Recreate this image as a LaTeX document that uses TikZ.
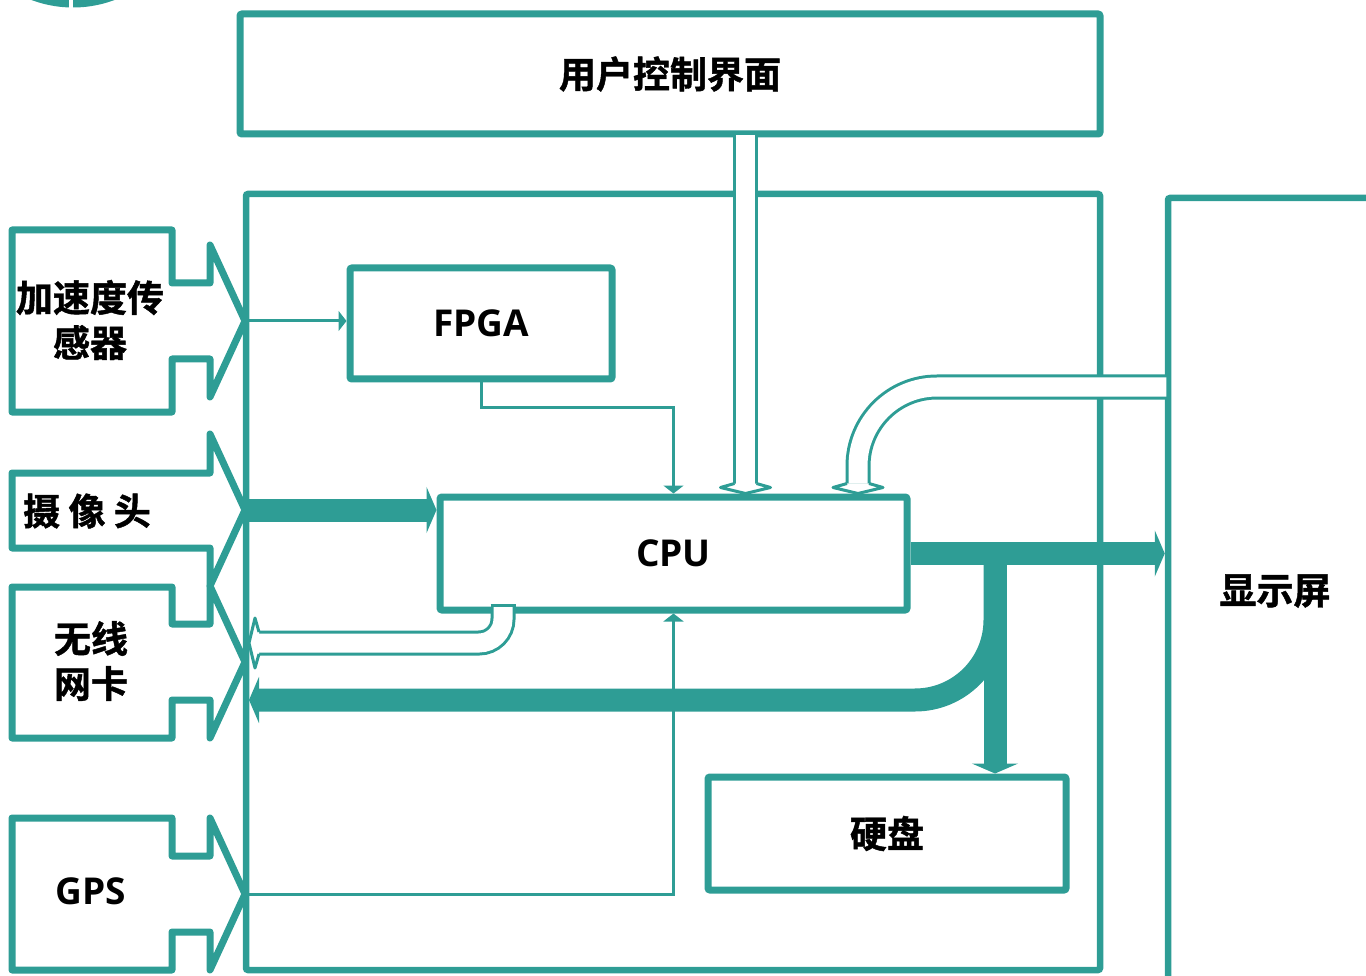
\documentclass[tikz,border=0pt]{standalone}
\usepackage{fontspec}
\setmainfont{Open Sans}
\newfontfamily\cjk{Noto Sans CJK SC}[BoldFont={Noto Sans CJK SC Bold}, BoldFeatures={FakeBold=1.2}]
\usetikzlibrary{calc,arrows.meta,positioning}
\definecolor{teal2}{RGB}{46,157,149}

\begin{document}
\begin{tikzpicture}[x=1pt, y=-1pt,
  box/.style={draw=teal2, line width=7pt, rounded corners=2pt, inner sep=0pt},
  zh/.style={font=\cjk\bfseries\fontsize{37}{45}\selectfont, align=center},
  en/.style={font=\bfseries\fontsize{37}{45}\selectfont},
  sensor/.style={draw=teal2, line width=7pt, line join=round},
  wire/.style={draw=teal2, line width=3pt, -{Triangle[width=20pt,length=8pt]}},
  bus/.style={draw=teal2, line width=23pt, -{Triangle[width=46pt,length=10pt]}},
  pipe/.style={draw=white, line width=19pt, preaction={draw=teal2, line width=25pt}},
  hhead/.pic={\filldraw[fill=white, draw=teal2, line width=3pt, line join=round] (-11,-10) -- (-25,-6) -- (0,0) -- (25,-6) -- (11,-10);}]
\useasboundingbox (0,0) rectangle (1366,976);
\clip (0,0) rectangle (1366,976);

% cut-off disc, top left
\fill[teal2] (73,-111) circle (118.5pt);
\draw[white, line width=4pt] (71,0) -- (71,12);

% input arrows on the left
\draw[sensor] (12,230) -- (172,230) -- (172,283) -- (210,283) -- (210,245) -- (245,321) -- (210,397) -- (210,359) -- (172,359) -- (172,412) -- (12,412) -- cycle;
\draw[sensor] (12,473) -- (210,473) -- (210,434) -- (245,510) -- (210,586) -- (210,548) -- (12,548) -- cycle;
\draw[sensor] (12,587) -- (172,587) -- (172,624) -- (210,624) -- (210,586) -- (245,662) -- (210,738) -- (210,700) -- (172,700) -- (172,738) -- (12,738) -- cycle;
\draw[sensor] (12,818) -- (172,818) -- (172,856) -- (210,856) -- (210,818) -- (245,894) -- (210,970) -- (210,932) -- (172,932) -- (172,970) -- (12,970) -- cycle;
\coordinate (acc) at (245,321);
\coordinate (cam) at (245,510);
\coordinate (wifi) at (245,662);
\coordinate (gps) at (245,894);
\node[zh] (acclbl) at (90,320) {加速度传\\感器};
\node[zh] (camlbl) at (87,511) {摄 像 头};
\node[zh] (wifilbl) at (91,661) {无线\\网卡};
\node[en] (gpslbl) at (91,891) {GPS};

% boxes
\node[box, line width=6.5pt, minimum width=854pt, minimum height=776pt] (board) at (673,582) {};
\node[box, zh, minimum width=860pt, minimum height=120pt] (ui) at (670,74) {用户控制界面};
\node[box, zh, line width=6.5pt, minimum width=214pt, minimum height=786pt] (disp) at (1275,591) {显示屏};
\node[box, en, minimum width=262pt, minimum height=111pt] (fpga) at (481,323.5) {FPGA};
\node[box, en, minimum width=467pt, minimum height=113pt] (cpu) at (673.5,553.5) {CPU};
\node[box, zh, minimum width=358pt, minimum height=113pt] (disk) at (887,833.5) {硬盘};

% thin links
\draw[wire] (acc) -- (acc -| fpga.west);
\draw[wire] (fpga.south) -- ++(0,25) -| (cpu.north);
\draw[wire] (gps) -| (cpu.south);

% thick links
\coordinate (split) at ($(cpu.east)+(84.5,0)$);
\draw[bus] (cam) -- (cam -| cpu.west);
\draw[bus] (cpu.east) -- (cpu.east -| disp.west);
\draw[bus] (split) -- (split |- disk.north);
\draw[bus, rounded corners=80pt] (split) |- ($(wifi)+(4,38)$);

% hollow links
\coordinate (uiin) at ([xshift=72pt]cpu.north);
\coordinate (dispin) at ([xshift=184.5pt]cpu.north);
\coordinate (cpuout) at ([xshift=-170.5pt,yshift=8pt]cpu.south);
\coordinate (wifiin) at ($(wifi)+(4,-19)$);
\draw[pipe] ([yshift=2pt]uiin |- ui.south) -- ([yshift=10pt]uiin);
\pic at (uiin) {hhead};
\draw[pipe, rounded corners=79pt] ($(disp.west)+(1.5,-204)$) -| ([yshift=10pt]dispin);
\pic at (dispin) {hhead};
\draw[pipe, rounded corners=24pt] ([yshift=-1.5pt]cpuout) |- ([xshift=10pt]wifiin);
\draw[teal2, line width=3pt] ([xshift=-12.5pt]cpuout) -- ([xshift=12.5pt]cpuout);
\pic[rotate=-90] at (wifiin) {hhead};
\end{tikzpicture}
\end{document}
